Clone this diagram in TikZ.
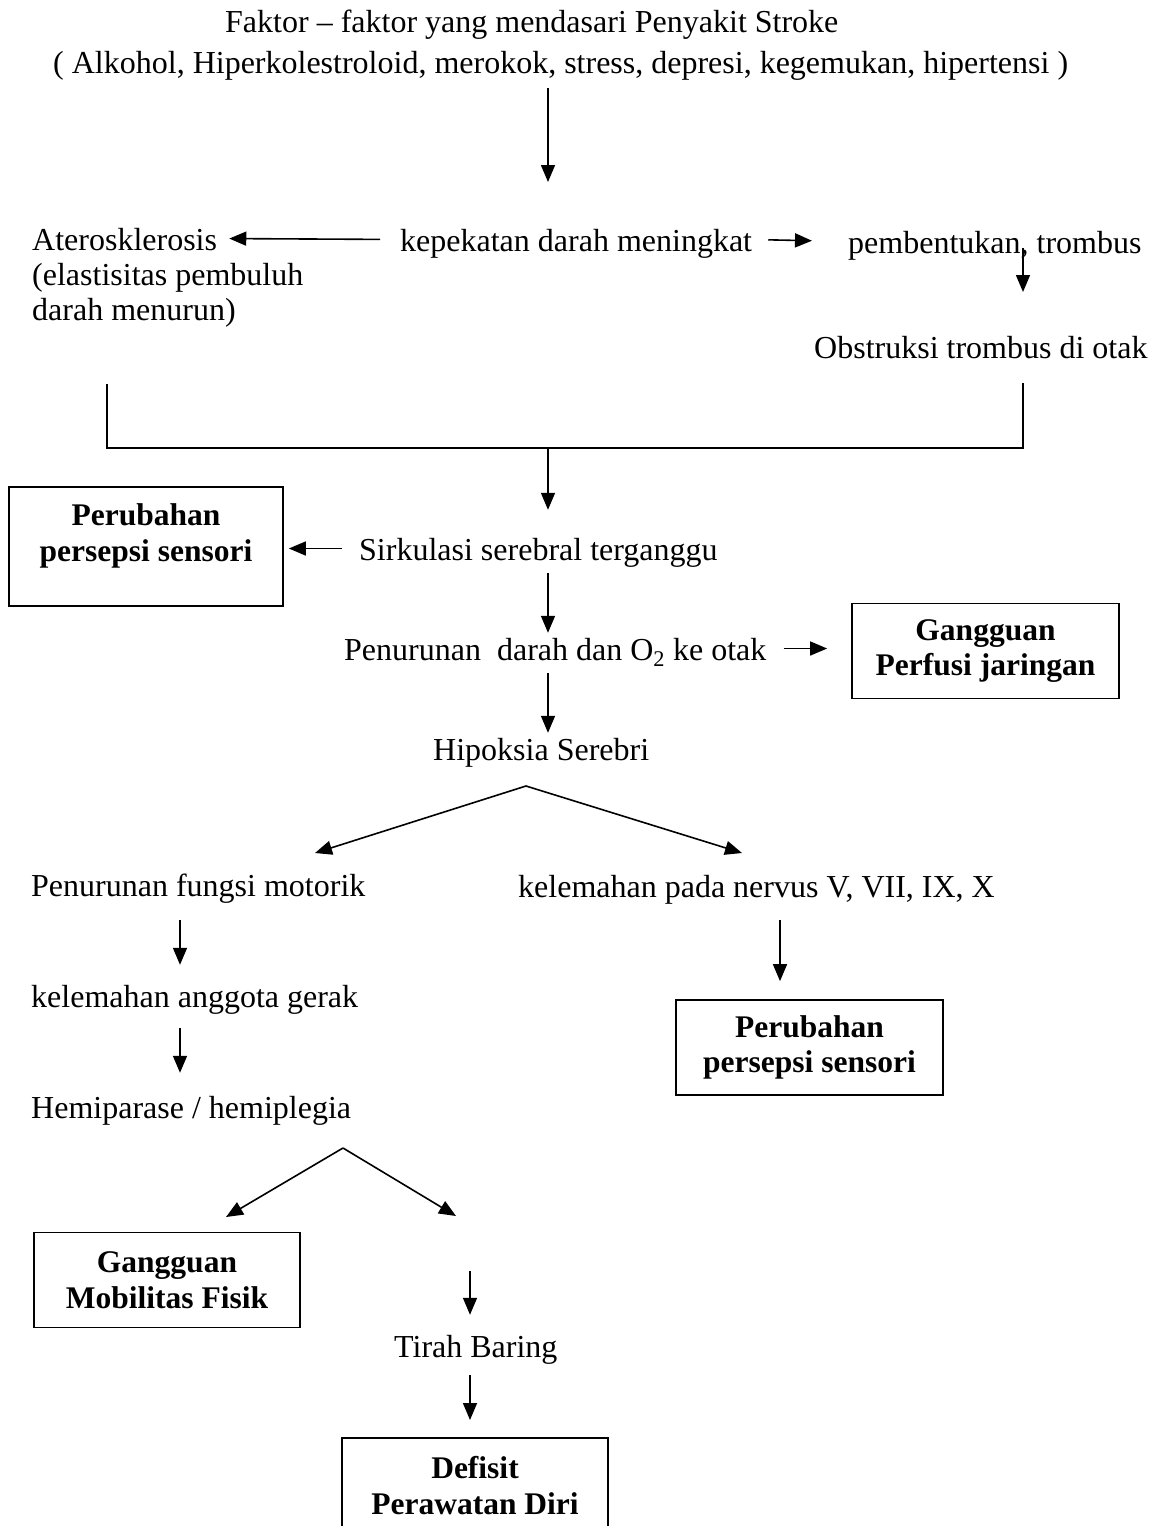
\documentclass[tikz,border=0pt]{standalone}
\usepackage{fontspec}
\setmainfont{Liberation Serif}
\usetikzlibrary{arrows.meta,positioning}

\newcommand{\flowfont}{\fontsize{32}{35.5}\selectfont}
\newcommand{\boxedfont}{\fontsize{31.5}{35.5}\selectfont\bfseries}

\begin{document}
\begin{tikzpicture}[
    x=1pt, y=-1pt,
    txt/.style={font=\flowfont, inner sep=0pt, text height=24pt, text depth=1pt, anchor=base west},
    txtblock/.style={font=\flowfont, inner sep=0pt, align=left, anchor=north west},
    box/.style={rectangle, draw, line width=1.7pt, minimum width=267pt, minimum height=95pt, inner sep=0pt, align=center, font=\boxedfont},
    boxtext/.style={inner sep=0pt, align=center, font=\boxedfont},
    arrow/.style={-{Triangle[length=17pt,width=14pt]}, line width=1.6pt},
    bracket/.style={line width=1.6pt}
]
\useasboundingbox (0,0) rectangle (1160,1526);

% Title
\node[txt] (faktor) at (225,32) {Faktor – faktor yang mendasari Penyakit Stroke};
\node[txt] (faktorlist) at (53,73) {( Alkohol, Hiperkolestroloid, merokok, stress, depresi, kegemukan, hipertensi )};

% Causes
\node[txt] (atero) at (32,250) {Aterosklerosis};
\node[txtblock] (elastis) at (32,263) {(elastisitas pembuluh\\darah menurun)};
\node[txt] (kepekatan) at (400,251) {kepekatan darah meningkat};
\node[txt] (trombus) at (848,253) {pembentukan, trombus};
\node[txt] (obstruksi) at (814,358) {Obstruksi trombus di otak};

% Circulation
\node[box, minimum width=274pt, minimum height=119pt, anchor=north] (persepsiA) at (146,486) {};
\node[boxtext, anchor=north] (persepsiAtext) at ([yshift=-17.7pt]persepsiA.north) {Perubahan\\persepsi sensori};
\node[txt] (sirkulasi) at (359,560) {Sirkulasi serebral terganggu};
\node[txt] (penurunan) at (344,660) {Penurunan~ darah dan O\textsubscript{2} ke otak};
\node[box] (perfusi) at (985.5,651) {Gangguan\\Perfusi jaringan};
\node[txt] (hipoksia) at (433,760) {Hipoksia Serebri};

% Branches
\node[txt] (motorik) at (31,896) {Penurunan fungsi motorik};
\node[txt] (nervus) at (518,897) {kelemahan pada nervus V, VII, IX, X};
\node[txt] (anggota) at (31,1007) {kelemahan anggota gerak};
\node[txt] (hemi) at (31,1118) {Hemiparase / hemiplegia};
\node[box] (persepsiB) at (809.5,1047.5) {Perubahan\\persepsi sensori};
\node[box, minimum width=266pt] (mobilitas) at (167,1280) {Gangguan\\Mobilitas Fisik};
\node[txt] (tirah) at (394,1357) {Tirah Baring};
\node[box, minimum width=266pt, anchor=north] (defisit) at (475,1437) {Defisit\\Perawatan Diri};

% Helper points
\coordinate (axisM) at (548,0);
\coordinate (axisL) at (180,0);
\coordinate (axisR) at (780,0);
\coordinate (t1) at (548,182);
\coordinate (t2) at (1023,292);
\coordinate (bl) at (107,448);
\coordinate (br) at (1023,448);
\coordinate (split1) at (526,786);
\coordinate (l1) at (315,853);
\coordinate (r1) at (742,853);
\coordinate (split2) at (343,1148);
\coordinate (l2) at (226,1217);
\coordinate (r2) at (456,1216);
\coordinate (b1) at (470,1271);

% Arrows
\draw[arrow, shorten <=14pt] (faktorlist.south -| t1) -- (t1);
\draw[arrow, shorten <=20pt, shorten >=12pt] (kepekatan.west) -- (atero.east);
\draw[arrow, shorten <=16pt, shorten >=36pt] (kepekatan.east) -- (trombus.west);
\draw[arrow, shorten <=6.5pt] (trombus.center -| t2) -- (t2);
\draw[bracket, shorten <=56pt, shorten >=24pt] (elastis.south -| bl) -- (bl) -- (br) -- (obstruksi.south -| br);
\draw[arrow, shorten >=26pt] (bl -| axisM) -- (sirkulasi.north -| axisM);
\draw[arrow, shorten <=17pt, shorten >=5pt] (sirkulasi.west) -- (sirkulasi.west -| persepsiA.east);
\draw[arrow, shorten <=12pt, shorten >=3pt] (sirkulasi.south -| axisM) -- (penurunan.north -| axisM);
\draw[arrow, shorten <=17pt, shorten >=24pt] (penurunan.east) -- (penurunan.east -| perfusi.west);
\draw[arrow, shorten <=12pt, shorten >=3pt] (penurunan.south -| axisM) -- (hipoksia.north -| axisM);
\draw[arrow] (split1) -- (l1);
\draw[arrow] (split1) -- (r1);
\draw[arrow, shorten <=23pt, shorten >=18pt] (motorik.south -| axisL) -- (anggota.north -| axisL);
\draw[arrow, shorten <=20pt, shorten >=21pt] (anggota.south -| axisL) -- (hemi.north -| axisL);
\draw[arrow, shorten <=22pt, shorten >=18pt] (nervus.south -| axisR) -- (persepsiB.north -| axisR);
\draw[arrow] (split2) -- (l2);
\draw[arrow] (split2) -- (r2);
\draw[arrow, shorten >=18pt] (b1) -- (tirah.north -| b1);
\draw[arrow, shorten <=17pt, shorten >=17pt] (tirah.south -| b1) -- (defisit.north -| b1);

\end{tikzpicture}
\end{document}
